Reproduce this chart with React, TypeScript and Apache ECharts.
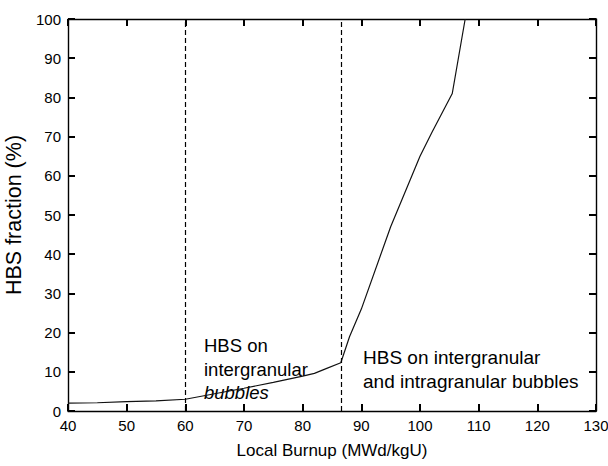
import React, { useEffect, useRef } from "react";
import * as echarts from "echarts";

const burnup = [40, 45, 50, 55, 60, 65, 70, 75, 80, 82, 84, 86.5, 88, 90, 95, 100, 102, 105.5, 107.7];
const hbsFraction = [2, 2.1, 2.4, 2.6, 3, 4.4, 5.8, 7.3, 8.9, 9.6, 10.8, 12.3, 19, 26, 47, 65, 71, 81, 100];
const thresholds = [60, 86.5];
const leftNote = "HBS on\nintergranular\n{i|bubbles}";
const rightNote = "HBS on intergranular\nand intragranular bubbles";

const FONT = "Liberation Sans, Arial, sans-serif";
const X_MIN = 40, X_MAX = 130, Y_MIN = 0, Y_MAX = 100;
const GRID = { left: 68, right: 12, top: 19, bottom: 55 };
const W = 608, H = 466;

export default function App() {
  const ref = useRef<HTMLDivElement>(null);
  useEffect(() => {
    const chart = echarts.init(ref.current!, null, { renderer: "svg" });
    const axisCommon = {
      axisLine: { show: true, onZero: false, lineStyle: { color: "#000", width: 1.4 } },
      axisTick: { show: true, inside: true, length: 7, lineStyle: { color: "#000", width: 2 } },
      splitLine: { show: false },
    };
    chart.setOption({
      animation: false,
      backgroundColor: "#fff",
      grid: { ...GRID, outerBoundsMode: "none", containLabel: false },
      xAxis: [
        {
          type: "value", min: X_MIN, max: X_MAX, interval: 10, position: "bottom",
          name: "Local Burnup (MWd/kgU)", nameLocation: "middle", nameGap: 31,
          nameTextStyle: { fontFamily: FONT, fontSize: 17, color: "#000" },
          axisLabel: { fontFamily: FONT, fontSize: 15, color: "#000", margin: 7 },
          ...axisCommon,
        },
        {
          type: "value", min: X_MIN, max: X_MAX, interval: 10, position: "top",
          axisLabel: { show: false }, ...axisCommon,
        },
      ],
      yAxis: [
        {
          type: "value", min: Y_MIN, max: Y_MAX, interval: 10, position: "left",
          name: "HBS fraction (%)", nameLocation: "middle", nameGap: 33, nameRotate: 90,
          nameTextStyle: { fontFamily: FONT, fontSize: 21.5, color: "#000" },
          axisLabel: { fontFamily: FONT, fontSize: 15, color: "#000", margin: 7 },
          ...axisCommon,
        },
        {
          type: "value", min: Y_MIN, max: Y_MAX, interval: 10, position: "right",
          axisLabel: { show: false }, ...axisCommon,
        },
      ],
      series: [
        {
          type: "line",
          data: burnup.map((b, i) => [b, hbsFraction[i]]),
          showSymbol: false,
          lineStyle: { color: "#111", width: 1.2 },
          markLine: {
            silent: true,
            symbol: "none",
            label: { show: false },
            lineStyle: { color: "#000", type: [5, 3], width: 1.2 },
            data: thresholds.map((t) => ({ xAxis: t })),
          },
        },
      ],
      graphic: [
        {
          type: "text", left: 204, top: 334,
          style: {
            text: leftNote, fontFamily: FONT, fontSize: 18.5, lineHeight: 23.5, fill: "#000",
            rich: { i: { fontFamily: FONT, fontSize: 18.5, lineHeight: 23.5, fontStyle: "italic", fill: "#000" } },
          },
        },
        {
          type: "text", left: 363, top: 345,
          style: { text: rightNote, fontFamily: FONT, fontSize: 19, lineHeight: 24, fill: "#000" },
        },
      ],
    });
    return () => chart.dispose();
  }, []);
  return <div ref={ref} style={{ position: "fixed", left: 0, top: 0, width: W, height: H }} />;
}
